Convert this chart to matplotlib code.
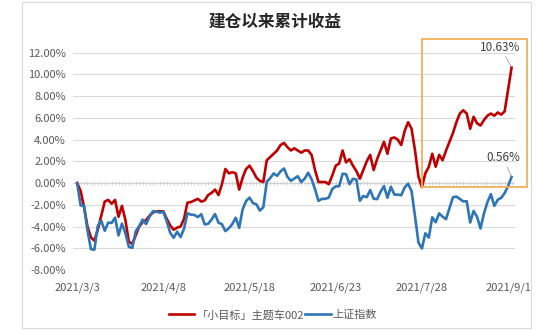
import numpy as np
import matplotlib
matplotlib.use('Agg')
from matplotlib import pyplot as plt
from matplotlib.patches import Rectangle

plt.rcParams['font.family'] = ['Noto Sans CJK SC', 'DejaVu Sans']

title = '建仓以来累计收益'
series_names = ['「小目标」主题车002', '上证指数']
tick_labels = ['2021/3/3', '2021/4/8', '2021/5/18', '2021/6/23', '2021/7/28', '2021/9/1']
tick_step = 25

# cumulative return, % (one value per trading day from 2021/3/3 to 2021/9/2)
fund = [0.00, -0.70, -2.20, -4.00, -5.00, -5.30, -4.30, -3.00, -1.70, -1.55,
        -1.90, -1.55, -3.10, -2.10, -3.40, -5.40, -5.60, -4.80, -4.00, -3.60,
        -3.40, -3.00, -2.70, -2.60, -2.60, -2.60, -3.30, -3.90, -4.30, -4.10,
        -4.00, -3.30, -1.80, -1.75, -1.60, -1.45, -1.70, -1.60, -1.10, -0.90,
        -0.60, -1.10, -0.10, 1.30, 0.90, 1.00, 0.90, -0.60, 0.50, 1.30,
        1.60, 1.10, 0.50, 0.20, 0.10, 2.10, 2.40, 2.70, 3.00, 3.50,
        3.70, 3.30, 3.00, 3.20, 3.00, 2.80, 3.00, 3.00, 2.60, 1.20,
        0.10, 0.10, 0.10, -0.10, 0.70, 1.60, 1.80, 3.00, 1.90, 2.20,
        1.60, 1.10, 0.40, 1.20, 2.00, 2.60, 1.20, 2.20, 3.00, 3.80,
        2.70, 4.10, 4.20, 4.00, 3.50, 4.80, 5.60, 5.00, 3.00, 0.60,
        -0.37, 0.90, 1.50, 2.70, 1.50, 2.60, 2.10, 3.00, 3.80, 4.60,
        5.60, 6.40, 6.70, 6.40, 5.00, 6.10, 5.50, 5.30, 5.80, 6.20,
        6.40, 6.20, 6.50, 6.30, 6.60, 8.60, 10.63]

index = [0.00, -2.05, -2.09, -4.35, -6.08, -6.13, -3.92, -3.46, -4.39, -3.64,
         -3.67, -3.18, -4.82, -3.73, -4.62, -5.87, -5.96, -4.43, -3.96, -3.36,
         -3.77, -3.09, -2.59, -2.63, -2.72, -2.64, -3.53, -4.58, -5.04, -4.48,
         -4.97, -4.20, -2.78, -2.91, -2.93, -3.13, -2.87, -3.80, -3.75, -3.35,
         -2.85, -3.64, -3.79, -4.42, -4.16, -3.78, -3.19, -4.12, -2.42, -1.66,
         -1.34, -1.84, -1.96, -2.53, -2.23, 0.12, 0.46, 0.89, 0.67, 1.08,
         1.34, 0.57, 0.21, 0.42, 0.63, 0.09, 0.41, 0.95, 0.36, -0.57,
         -1.64, -1.45, -1.45, -1.33, -0.55, -0.30, -0.29, 0.86, 0.82, -0.10,
         0.40, 0.33, -1.63, -1.19, -1.30, -0.65, -1.44, -1.48, -0.81, -0.28,
         -1.35, -0.34, -1.05, -1.06, -1.12, -0.40, -0.06, -0.74, -3.06, -5.47,
         -6.02, -4.62, -5.02, -3.15, -3.60, -2.79, -3.09, -3.32, -2.30, -1.31,
         -1.24, -1.46, -1.69, -1.67, -3.63, -2.56, -3.11, -4.18, -2.79, -1.75,
         -1.02, -2.10, -1.53, -1.36, -0.92, -0.27, 0.56]

# orange highlight box (x in trading-day index, y in %)
box_x = [100, 130.5]
box_y = [-0.37, 13.3]

red = '#C00000'
blue = '#2E75B6'
grid = '#D9D9D9'
text_gray = '#595959'

fig = plt.figure(figsize=(5.5, 3.3), dpi=100)
ax = fig.add_axes([73 / 550, 1 - 270 / 330, 442 / 550, 217.3 / 330])

x = np.arange(len(fund))
ax.plot(x, fund, color=red, lw=1.9, label=series_names[0], zorder=3)
ax.plot(x, index, color=blue, lw=1.9, label=series_names[1], zorder=4)

ax.set_xlim(-1.2, 127)
ax.set_ylim(-8, 12)
yt = np.arange(-8, 13, 2)
ax.set_yticks(yt)
ax.set_yticklabels(['{:.2f}%'.format(v) for v in yt])
ax.set_xticks(x[::tick_step])
ax.set_xticklabels(tick_labels)
ax.tick_params(axis='both', length=0, labelsize=8, labelcolor=text_gray)
ax.tick_params(axis='x', pad=9)
ax.tick_params(axis='y', pad=5)
for s in ax.spines.values():
    s.set_visible(False)
ax.yaxis.grid(True, color=grid, lw=0.8)
ax.set_axisbelow(True)

# category axis crossing at zero, with a small mark per day
ax.axhline(0, color='#D0D0D0', lw=0.8, zorder=1)
ax.plot(x, np.zeros(len(x)), ls='none', marker='|', ms=3, mew=0.6,
        color='#D0D0D0', zorder=1)

ax.add_patch(Rectangle((box_x[0], box_y[0]), box_x[1] - box_x[0], box_y[1] - box_y[0],
                       fill=False, edgecolor='#F2B155', lw=1.3, clip_on=False, zorder=5))

ax.annotate('{:.2f}%'.format(fund[-1]), xy=(x[-1], fund[-1]), xytext=(-8, 10),
            textcoords='offset points', ha='center', va='bottom', fontsize=8.5,
            color='#404040', annotation_clip=False,
            arrowprops=dict(arrowstyle='-', color='#A0A0A0', lw=0.6, shrinkA=0, shrinkB=1))
ax.annotate('{:.2f}%'.format(index[-1]), xy=(x[-1], index[-1]), xytext=(-6, 9),
            textcoords='offset points', ha='center', va='bottom', fontsize=8.5,
            color='#404040', annotation_clip=False,
            arrowprops=dict(arrowstyle='-', color='#A0A0A0', lw=0.6, shrinkA=0, shrinkB=1))

fig.text(275 / 550, 1 - 22 / 330, title, ha='center', va='center',
         fontsize=12, fontweight='bold', color='#262626')

fig.legend(loc='center', bbox_to_anchor=(273 / 550, 1 - 315 / 330), ncol=2,
           frameon=False, fontsize=8, handlelength=2.3, handletextpad=0.2,
           columnspacing=0.1, labelcolor=text_gray)

fig.patches.append(Rectangle((22 / 550, 2 / 330), 509 / 550, 326 / 330,
                             transform=fig.transFigure, fill=False,
                             edgecolor=grid, lw=0.8))

fig.savefig('out.png', dpi=100)
